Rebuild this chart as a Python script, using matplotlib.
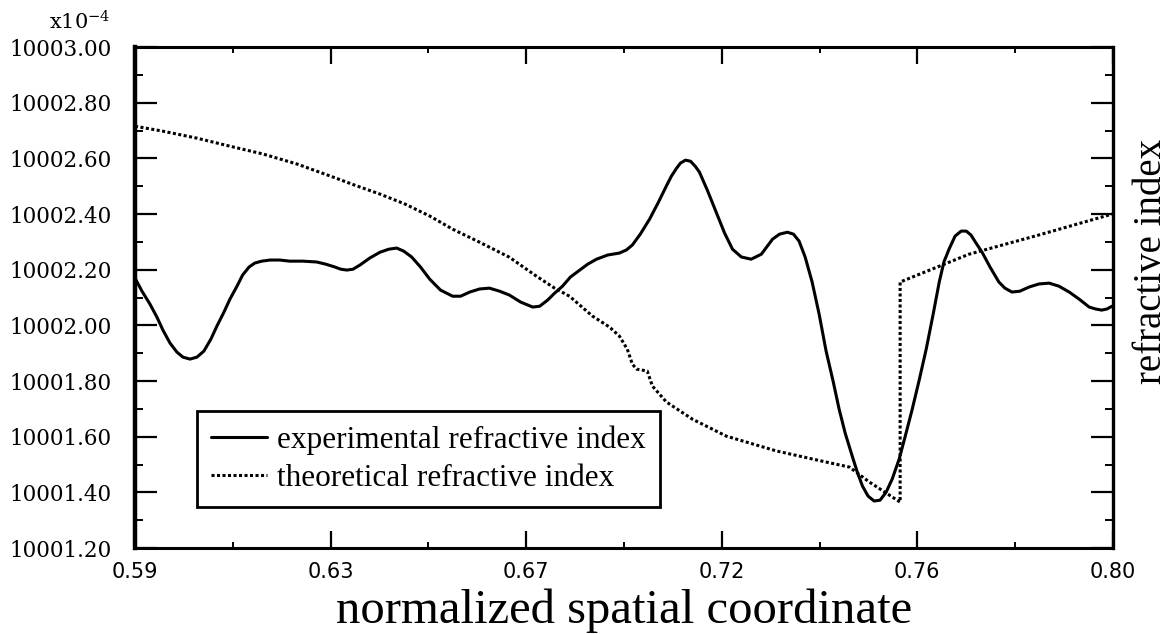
import matplotlib
matplotlib.use("Agg")
import matplotlib.pyplot as plt
from matplotlib.ticker import MultipleLocator, FixedLocator, FormatStrFormatter

# experimental refractive index (solid), units of 1e-4
exp_x = [0.5900, 0.5915, 0.5932, 0.5947, 0.5960, 0.5975, 0.5990, 0.6003, 0.6018,
         0.6033, 0.6048, 0.6063, 0.6076, 0.6091, 0.6104, 0.6119, 0.6131, 0.6145,
         0.6157, 0.6172, 0.6190, 0.6211, 0.6232, 0.6260, 0.6290, 0.6310, 0.6329,
         0.6342, 0.6355, 0.6368, 0.6383, 0.6404, 0.6426, 0.6445, 0.6462, 0.6477,
         0.6494, 0.6513, 0.6533, 0.6556, 0.6582, 0.6599, 0.6619, 0.6640, 0.6661,
         0.6683, 0.6704, 0.6728, 0.6754, 0.6769, 0.6786, 0.6801, 0.6818, 0.6835,
         0.6855, 0.6872, 0.6891, 0.6915, 0.6940, 0.6955, 0.6968, 0.6985, 0.7005,
         0.7024, 0.7041, 0.7052, 0.7063, 0.7071, 0.7082, 0.7093, 0.7103, 0.7112,
         0.7129, 0.7148, 0.7166, 0.7183, 0.7202, 0.7223, 0.7245, 0.7269, 0.7284,
         0.7301, 0.7314, 0.7326, 0.7339, 0.7354, 0.7369, 0.7384, 0.7399, 0.7412,
         0.7425, 0.7440, 0.7451, 0.7462, 0.7474, 0.7487, 0.7500, 0.7513, 0.7526,
         0.7541, 0.7554, 0.7569, 0.7584, 0.7599, 0.7614, 0.7627, 0.7637, 0.7648,
         0.7661, 0.7674, 0.7685, 0.7695, 0.7706, 0.7719, 0.7736, 0.7755, 0.7768,
         0.7783, 0.7800, 0.7820, 0.7841, 0.7863, 0.7884, 0.7906, 0.7927, 0.7949,
         0.7963, 0.7976, 0.7987, 0.7998]
exp_y = [10002.170, 10002.123, 10002.077, 10002.030, 10001.983, 10001.937, 10001.904,
         10001.886, 10001.879, 10001.886, 10001.908, 10001.951, 10001.998, 10002.048,
         10002.095, 10002.141, 10002.181, 10002.210, 10002.224, 10002.231, 10002.235,
         10002.235, 10002.231, 10002.231, 10002.228, 10002.220, 10002.210, 10002.202,
         10002.199, 10002.202, 10002.217, 10002.242, 10002.263, 10002.274, 10002.278,
         10002.267, 10002.246, 10002.210, 10002.166, 10002.127, 10002.105, 10002.105,
         10002.120, 10002.131, 10002.134, 10002.123, 10002.109, 10002.084, 10002.066,
         10002.069, 10002.091, 10002.116, 10002.141, 10002.174, 10002.199, 10002.220,
         10002.238, 10002.253, 10002.260, 10002.271, 10002.289, 10002.328, 10002.382,
         10002.443, 10002.501, 10002.537, 10002.565, 10002.583, 10002.594, 10002.590,
         10002.572, 10002.551, 10002.486, 10002.407, 10002.332, 10002.274, 10002.246,
         10002.238, 10002.256, 10002.310, 10002.328, 10002.335, 10002.328, 10002.303,
         10002.246, 10002.156, 10002.041, 10001.908, 10001.800, 10001.699, 10001.613,
         10001.531, 10001.473, 10001.423, 10001.387, 10001.369, 10001.372, 10001.401,
         10001.448, 10001.520, 10001.602, 10001.699, 10001.804, 10001.915, 10002.041,
         10002.156, 10002.228, 10002.274, 10002.321, 10002.339, 10002.339, 10002.325,
         10002.296, 10002.263, 10002.210, 10002.156, 10002.134, 10002.120, 10002.123,
         10002.138, 10002.149, 10002.152, 10002.141, 10002.120, 10002.095, 10002.066,
         10002.059, 10002.055, 10002.059, 10002.069]

# theoretical refractive index (dotted)
th_x = [0.5900, 0.5960, 0.6033, 0.6104, 0.6175, 0.6248, 0.6319, 0.6372, 0.6426,
        0.6480, 0.6533, 0.6582, 0.6640, 0.6704, 0.6762, 0.6801, 0.6833, 0.6882,
        0.6919, 0.6940, 0.6957, 0.6968, 0.6977, 0.7000, 0.7011, 0.7041, 0.7097,
        0.7170, 0.7277, 0.7384, 0.7434, 0.7477, 0.7543, 0.7543, 0.7691, 0.7841,
        0.7998]
th_y = [10002.716, 10002.698, 10002.673, 10002.644, 10002.616, 10002.580, 10002.537,
        10002.504, 10002.472, 10002.436, 10002.393, 10002.346, 10002.299, 10002.245,
        10002.177, 10002.134, 10002.105, 10002.034, 10001.994, 10001.962, 10001.915,
        10001.861, 10001.843, 10001.836, 10001.782, 10001.725, 10001.663, 10001.602,
        10001.549, 10001.509, 10001.491, 10001.437, 10001.365, 10002.156, 10002.256,
        10002.325, 10002.400]

x_ticks = [0.59, 0.632, 0.674, 0.716, 0.758, 0.80]
y_ticks = [10001.2 + 0.2 * i for i in range(10)]

serif = ["Liberation Serif", "DejaVu Serif"]
plt.rcParams["mathtext.fontset"] = "dejavuserif"

fig = plt.figure(figsize=(11.74, 6.34), dpi=100)
ax = fig.add_axes([0.115, 0.1356, 0.833, 0.790])

ax.plot(exp_x, exp_y, color="black", lw=2.2, solid_joinstyle="round",
        solid_capstyle="round", label="experimental refractive index")
ax.plot(th_x, th_y, color="black", lw=2.2, linestyle=(0, (1, 0.8)),
        label="theoretical refractive index")

ax.set_xlim(0.59, 0.80)
ax.set_ylim(10001.2, 10003.0)
ax.xaxis.set_major_locator(FixedLocator(x_ticks))
ax.xaxis.set_minor_locator(FixedLocator([t + 0.021 for t in x_ticks[:-1]]))
ax.xaxis.set_major_formatter(FormatStrFormatter("%.2f"))
ax.yaxis.set_major_locator(FixedLocator(y_ticks))
ax.yaxis.set_minor_locator(MultipleLocator(0.1))
ax.yaxis.set_major_formatter(FormatStrFormatter("%.2f"))

ax.tick_params(axis="y", which="major", direction="in", length=16, width=1.6,
               left=True, right=True, pad=17)
ax.tick_params(axis="y", which="minor", direction="in", length=6, width=1.4,
               left=True, right=True)
ax.tick_params(axis="x", which="major", direction="in", length=12, width=1.6,
               top=True, bottom=True, pad=10)
ax.tick_params(axis="x", which="minor", direction="in", length=4, width=1.4,
               top=True, bottom=True)
for lab in ax.get_yticklabels():
    lab.set_family("DejaVu Serif")
    lab.set_fontsize(15.5)
for lab in ax.get_xticklabels():
    lab.set_family("DejaVu Sans")
    lab.set_fontsize(15)

for side, w in [("left", 3.2), ("bottom", 2.2), ("right", 2.4), ("top", 2.2)]:
    ax.spines[side].set_linewidth(w)

ax.set_xlabel("normalized spatial coordinate", family=serif, fontsize=35, labelpad=5)
fig.text(0.981, 0.587, "refractive index", family=serif, fontsize=28,
         rotation=90, ha="center", va="center")
fig.text(0.094, 0.947, r"x10$^{-4}$", family="DejaVu Serif", fontsize=15,
         ha="right", va="bottom")

leg = ax.legend(loc="lower left", bbox_to_anchor=(0.0634, 0.0818), borderaxespad=0,
                prop={"family": serif, "size": 22.5}, frameon=True, fancybox=False,
                edgecolor="black", framealpha=1, handlelength=1.8,
                handletextpad=0.3, borderpad=0.45, labelspacing=0.3)
leg.get_frame().set_linewidth(2.0)

fig.savefig("out.png", dpi=100)
